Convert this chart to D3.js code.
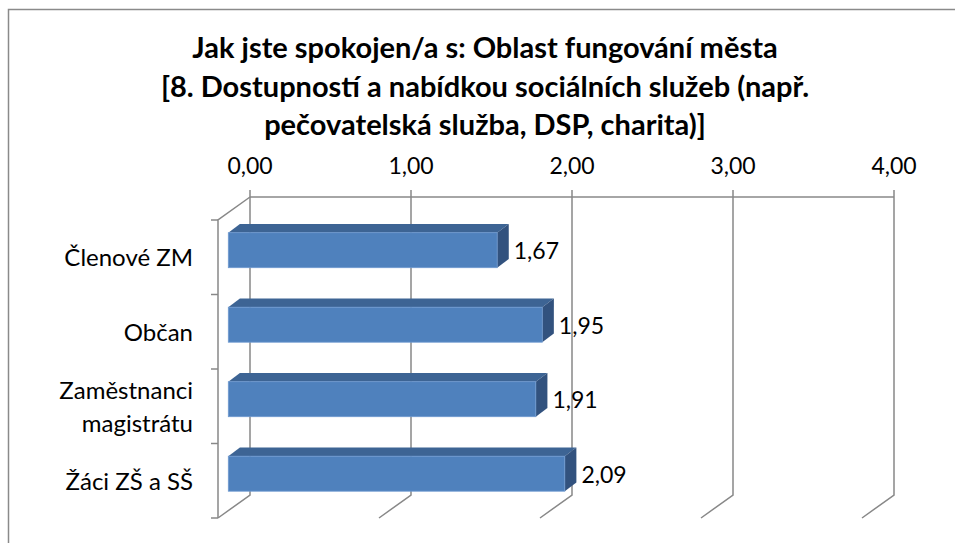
<!DOCTYPE html>
<html>
<head>
<meta charset="utf-8">
<script src="https://cdn.jsdelivr.net/npm/d3@7"></script>
<style>
  body { margin: 0; background: #fff; }
  text { font-family: Lato, "Open Sans", sans-serif; fill: #000; }
  .grid { stroke: #888; stroke-width: 1.5; fill: none; }
</style>
</head>
<body>
<div id="chart-area"></div>
<script>
// 3d-ish horizontal bar chart, excel style

const WIDTH = 955;
const HEIGHT = 543;

const titleLines = [
    "Jak jste spokojen/a s: Oblast fungování města",
    "[8. Dostupností a nabídkou sociálních služeb (např.",
    "pečovatelská služba, DSP, charita)]"
];
const categories = ["Členové ZM", "Občan", "Zaměstnanci magistrátu", "Žáci ZŠ a SŠ"];
const categoryLines = [["Členové ZM"], ["Občan"], ["Zaměstnanci", "magistrátu"], ["Žáci ZŠ a SŠ"]];
const values = [1.67, 1.95, 1.91, 2.09];
const ticks = [0, 1, 2, 3, 4];

const fmt = v => v.toFixed(2).replace(".", ",");

// plot geometry (back wall + floor depth)
const BACK_TOP = 197, BACK_BOTTOM = 495;
const DEPTH_X = -32, DEPTH_Y = 23;       // back wall -> front edge
const BAR_DX = 11.6, BAR_DY = -8.7;      // bar front face -> bar back face
const BAR_FRONT_SHIFT = -21.7;           // bar front face vs back wall x

let svg = d3.select("#chart-area").append("svg")
    .attr("width", WIDTH)
    .attr("height", HEIGHT);

// chart border (only top/left visible)
svg.append("rect")
    .attr("x", 8.5).attr("y", 9.5)
    .attr("width", WIDTH + 20).attr("height", HEIGHT + 20)
    .attr("fill", "none")
    .attr("stroke", "#8a8a8a")
    .attr("stroke-width", 1.5);

let xScale = d3.scaleLinear()
    .domain([0, 4])
    .range([250, 894]);

// category bands on the front plane
let yScale = d3.scaleBand()
    .domain(categories)
    .range([BACK_TOP + DEPTH_Y, BACK_BOTTOM + DEPTH_Y]);

// title
svg.append("text")
    .attr("text-anchor", "middle")
    .style("font-weight", "bold")
    .style("font-size", "29px")
    .selectAll("tspan")
    .data(titleLines)
    .enter().append("tspan")
    .attr("x", 485)
    .attr("y", (d, i) => 58 + i * 38.5)
    .text(d => d);

// back wall gridlines + floor lines
let g = svg.append("g");

g.append("line").attr("class", "grid")
    .attr("x1", xScale(0)).attr("x2", xScale(4))
    .attr("y1", BACK_TOP).attr("y2", BACK_TOP);

g.selectAll(".vgrid")
    .data(ticks)
    .enter().append("path")
    .attr("class", "grid vgrid")
    .attr("d", t => `M${xScale(t)},${BACK_TOP - 7}L${xScale(t)},${BACK_BOTTOM}l${DEPTH_X},${DEPTH_Y}`);

// left wall edge + front axis
const fx = xScale(0) + DEPTH_X;
g.append("path").attr("class", "grid")
    .attr("d", `M${xScale(0)},${BACK_TOP}l${DEPTH_X},${DEPTH_Y}L${fx},${BACK_BOTTOM + DEPTH_Y}`);

let bounds = categories.map(c => yScale(c)).concat([yScale.range()[1]]);
g.selectAll(".ytick")
    .data(bounds)
    .enter().append("line")
    .attr("class", "grid ytick")
    .attr("x1", fx - 7).attr("x2", fx)
    .attr("y1", d => d).attr("y2", d => d);

// tick labels
svg.selectAll(".xlabel")
    .data(ticks)
    .enter().append("text")
    .attr("class", "xlabel")
    .attr("text-anchor", "middle")
    .style("font-size", "23px")
    .attr("x", t => xScale(t))
    .attr("y", 174)
    .text(fmt);

// category labels
svg.selectAll(".ylabel")
    .data(categories)
    .enter().append("text")
    .attr("class", "ylabel")
    .attr("text-anchor", "end")
    .style("font-size", "24px")
    .each(function(c, i) {
        const lines = categoryLines[i];
        const mid = yScale(c) + yScale.bandwidth() / 2;
        d3.select(this).selectAll("tspan")
            .data(lines)
            .enter().append("tspan")
            .attr("x", 193)
            .attr("y", (l, j) => mid + 9 + (j - (lines.length - 1) / 2) * 33)
            .text(l => l);
    });

// bars
const BAR_H = 35;
let bars = svg.selectAll(".bar")
    .data(values)
    .enter().append("g")
    .attr("class", "bar");

const barX0 = xScale(0) + BAR_FRONT_SHIFT;
const barTop = (v, i) => yScale(categories[i]) + 12.7;
const barX1 = v => xScale(v) + BAR_FRONT_SHIFT;

// top face
bars.append("path")
    .attr("fill", "#3d6494")
    .attr("d", (v, i) => {
        let y = barTop(v, i);
        return `M${barX0},${y}l${BAR_DX},${BAR_DY}L${barX1(v) + BAR_DX},${y + BAR_DY}L${barX1(v)},${y}Z`;
    });

// side face
bars.append("path")
    .attr("fill", "#32527e")
    .attr("d", (v, i) => {
        let y = barTop(v, i);
        let x = barX1(v);
        return `M${x},${y}l${BAR_DX},${BAR_DY}l0,${BAR_H}l${-BAR_DX},${-BAR_DY}Z`;
    });

// front face
bars.append("rect")
    .attr("fill", "#4f81bd")
    .attr("stroke", "#6f9ad0")
    .attr("stroke-width", 0.8)
    .attr("x", barX0)
    .attr("y", (v, i) => barTop(v, i))
    .attr("width", v => barX1(v) - barX0)
    .attr("height", BAR_H);

// value labels
svg.selectAll(".vlabel")
    .data(values)
    .enter().append("text")
    .attr("class", "vlabel")
    .style("font-size", "23px")
    .attr("x", v => barX1(v) + BAR_DX + 5)
    .attr("y", (v, i) => barTop(v, i) + BAR_H / 2 + 9)
    .text(fmt);
</script>
</body>
</html>
